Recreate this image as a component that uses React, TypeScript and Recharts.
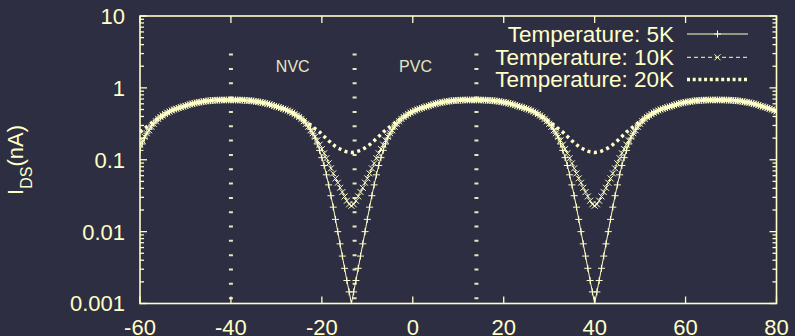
import React from 'react';
import { LineChart, Line, XAxis, YAxis, ReferenceLine, ReferenceDot } from 'recharts';

const BG = '#2e2e42';
const FG = '#ffffc8';
const DIM = '#e6e6c0';
const FONT = '"Liberation Sans", Arial, Helvetica, sans-serif';

const W = 795;
const H = 336;
const PLOT_LEFT = 140;
const PLOT_RIGHT = 776.5;
const PLOT_TOP = 16;
const PLOT_BOTTOM = 303.5;

// gate voltage (x) samples
const xValues = [
  -60,-59.5,-59,-58.5,-58,-57.5,-57,-56.5,-56,-55.5,-55,-54.5,-54,-53.5,-53,-52.5,-52,-51.5,-51,-50.5,
  -50,-49.5,-49,-48.5,-48,-47.5,-47,-46.5,-46,-45.5,-45,-44.5,-44,-43.5,-43,-42.5,-42,-41.5,-41,-40.5,
  -40,-39.5,-39,-38.5,-38,-37.5,-37,-36.5,-36,-35.5,-35,-34.5,-34,-33.5,-33,-32.5,-32,-31.5,-31,-30.5,
  -30,-29.5,-29,-28.5,-28,-27.5,-27,-26.5,-26,-25.5,-25,-24.5,-24,-23.5,-23,-22.5,-22,-21.5,-21,-20.5,
  -20,-19.5,-19,-18.5,-18,-17.5,-17,-16.5,-16,-15.5,-15,-14.5,-14,-13.5,-13,-12.5,-12,-11.5,-11,-10.5,
  -10,-9.5,-9,-8.5,-8,-7.5,-7,-6.5,-6,-5.5,-5,-4.5,-4,-3.5,-3,-2.5,-2,-1.5,-1,-0.5,
  0,0.5,1,1.5,2,2.5,3,3.5,4,4.5,5,5.5,6,6.5,7,7.5,8,8.5,9,9.5,
  10,10.5,11,11.5,12,12.5,13,13.5,14,14.5,15,15.5,16,16.5,17,17.5,18,18.5,19,19.5,
  20,20.5,21,21.5,22,22.5,23,23.5,24,24.5,25,25.5,26,26.5,27,27.5,28,28.5,29,29.5,
  30,30.5,31,31.5,32,32.5,33,33.5,34,34.5,35,35.5,36,36.5,37,37.5,38,38.5,39,39.5,
  40,40.5,41,41.5,42,42.5,43,43.5,44,44.5,45,45.5,46,46.5,47,47.5,48,48.5,49,49.5,
  50,50.5,51,51.5,52,52.5,53,53.5,54,54.5,55,55.5,56,56.5,57,57.5,58,58.5,59,59.5,
  60,60.5,61,61.5,62,62.5,63,63.5,64,64.5,65,65.5,66,66.5,67,67.5,68,68.5,69,69.5,
  70,70.5,71,71.5,72,72.5,73,73.5,74,74.5,75,75.5,76,76.5,77,77.5,78,78.5,79,79.5,
  80,
];

// I_DS (nA) at 5K
const temp5K = [
  // -60 .. -40.5
  0.135,0.166,0.2,0.234,0.266,0.295,0.324,0.347,0.372,0.394,0.412,0.432,0.452,0.468,0.484,0.501,0.513,0.525,0.537,0.55,
  0.562,0.575,0.589,0.603,0.61,0.624,0.631,0.638,0.646,0.653,0.661,0.665,0.668,0.671,0.674,0.676,0.678,0.679,0.679,0.679,
  // -40 .. -13.5
  0.679,0.679,0.679,0.678,0.676,0.674,0.671,0.668,0.665,0.661,0.653,0.646,0.638,0.631,0.624,0.61,0.603,0.589,0.575,0.562,
  0.55,0.537,0.525,0.513,0.501,0.484,0.468,0.452,0.432,0.412,0.394,0.372,0.347,0.324,0.295,0.266,0.234,0.2,0.166,0.135,
  0.107,0.0832,0.0617,0.0447,0.0316,0.0219,0.0148,0.01,0.00676,0.00457,0.00309,0.00209,0.00145,0.001,
  // -13 .. 13
  0.00145,0.00209,0.00309,0.00457,0.00676,0.01,0.0148,0.0219,0.0316,0.0447,0.0617,0.0832,0.107,0.135,0.166,0.2,0.234,0.266,
  0.295,0.324,0.347,0.372,0.394,0.412,0.432,0.452,0.468,0.484,0.501,0.513,0.525,0.537,0.55,0.562,0.575,0.589,0.603,0.61,
  0.624,0.631,0.638,0.646,0.653,0.661,0.665,0.668,0.671,0.674,0.676,0.678,0.679,0.679,0.679,
  // 13.5 .. 40
  0.679,0.679,0.679,0.678,0.676,0.674,0.671,0.668,0.665,0.661,0.653,0.646,0.638,0.631,0.624,0.61,0.603,0.589,0.575,0.562,
  0.55,0.537,0.525,0.513,0.501,0.484,0.468,0.452,0.432,0.412,0.394,0.372,0.347,0.324,0.295,0.266,0.234,0.2,0.166,0.135,
  0.107,0.0832,0.0617,0.0447,0.0316,0.0219,0.0148,0.01,0.00676,0.00457,0.00309,0.00209,0.00145,0.001,
  // 40.5 .. 66.5
  0.00145,0.00209,0.00309,0.00457,0.00676,0.01,0.0148,0.0219,0.0316,0.0447,0.0617,0.0832,0.107,0.135,0.166,0.2,0.234,0.266,
  0.295,0.324,0.347,0.372,0.394,0.412,0.432,0.452,0.468,0.484,0.501,0.513,0.525,0.537,0.55,0.562,0.575,0.589,0.603,0.61,
  0.624,0.631,0.638,0.646,0.653,0.661,0.665,0.668,0.671,0.674,0.676,0.678,0.679,0.679,0.679,
  // 67 .. 80
  0.679,0.679,0.679,0.678,0.676,0.674,0.671,0.668,0.665,0.661,0.653,0.646,0.638,0.631,0.624,0.61,0.603,0.589,0.575,0.562,
  0.55,0.537,0.525,0.513,0.501,0.484,0.468,
];

// I_DS (nA) at 10K
const temp10K = [
  // -60 .. -40.5
  0.162,0.186,0.209,0.234,0.257,0.288,0.316,0.343,0.37,0.393,0.412,0.432,0.452,0.468,0.484,0.501,0.513,0.525,0.537,0.55,
  0.562,0.575,0.589,0.603,0.61,0.624,0.631,0.638,0.646,0.653,0.661,0.665,0.668,0.671,0.674,0.676,0.678,0.679,0.679,0.679,
  // -40 .. -13.5
  0.679,0.679,0.679,0.678,0.676,0.674,0.671,0.668,0.665,0.661,0.653,0.646,0.638,0.631,0.624,0.61,0.603,0.589,0.575,0.562,
  0.55,0.537,0.525,0.513,0.501,0.484,0.468,0.452,0.432,0.412,0.393,0.37,0.343,0.316,0.288,0.257,0.234,0.209,0.186,0.162,
  0.141,0.123,0.105,0.0891,0.0759,0.0646,0.055,0.0479,0.0407,0.0355,0.0309,0.0269,0.024,0.0229,
  // -13 .. 13
  0.024,0.0269,0.0309,0.0355,0.0407,0.0479,0.055,0.0646,0.0759,0.0891,0.105,0.123,0.141,0.162,0.186,0.209,0.234,0.257,
  0.288,0.316,0.343,0.37,0.393,0.412,0.432,0.452,0.468,0.484,0.501,0.513,0.525,0.537,0.55,0.562,0.575,0.589,0.603,0.61,
  0.624,0.631,0.638,0.646,0.653,0.661,0.665,0.668,0.671,0.674,0.676,0.678,0.679,0.679,0.679,
  // 13.5 .. 40
  0.679,0.679,0.679,0.678,0.676,0.674,0.671,0.668,0.665,0.661,0.653,0.646,0.638,0.631,0.624,0.61,0.603,0.589,0.575,0.562,
  0.55,0.537,0.525,0.513,0.501,0.484,0.468,0.452,0.432,0.412,0.393,0.37,0.343,0.316,0.288,0.257,0.234,0.209,0.186,0.162,
  0.141,0.123,0.105,0.0891,0.0759,0.0646,0.055,0.0479,0.0407,0.0355,0.0309,0.0269,0.024,0.0229,
  // 40.5 .. 66.5
  0.024,0.0269,0.0309,0.0355,0.0407,0.0479,0.055,0.0646,0.0759,0.0891,0.105,0.123,0.141,0.162,0.186,0.209,0.234,0.257,
  0.288,0.316,0.343,0.37,0.393,0.412,0.432,0.452,0.468,0.484,0.501,0.513,0.525,0.537,0.55,0.562,0.575,0.589,0.603,0.61,
  0.624,0.631,0.638,0.646,0.653,0.661,0.665,0.668,0.671,0.674,0.676,0.678,0.679,0.679,0.679,
  // 67 .. 80
  0.679,0.679,0.679,0.678,0.676,0.674,0.671,0.668,0.665,0.661,0.653,0.646,0.638,0.631,0.624,0.61,0.603,0.589,0.575,0.562,
  0.55,0.537,0.525,0.513,0.501,0.484,0.468,
];

// I_DS (nA) at 20K
const temp20K = [
  // -60 .. -40.5
  0.243,0.257,0.272,0.288,0.305,0.324,0.339,0.355,0.372,0.389,0.407,0.427,0.447,0.462,0.484,0.501,0.513,0.525,0.537,0.55,
  0.562,0.575,0.589,0.603,0.61,0.624,0.631,0.638,0.646,0.653,0.661,0.665,0.668,0.671,0.674,0.676,0.678,0.679,0.679,0.679,
  // -40 .. -13.5
  0.679,0.679,0.679,0.678,0.676,0.674,0.671,0.668,0.665,0.661,0.653,0.646,0.638,0.631,0.624,0.61,0.603,0.589,0.575,0.562,
  0.55,0.537,0.525,0.513,0.501,0.484,0.462,0.447,0.427,0.407,0.389,0.372,0.355,0.339,0.324,0.305,0.288,0.272,0.257,0.243,
  0.226,0.211,0.197,0.184,0.172,0.162,0.153,0.146,0.141,0.136,0.132,0.129,0.127,0.126,
  // -13 .. 13
  0.127,0.129,0.132,0.136,0.141,0.146,0.153,0.162,0.172,0.184,0.197,0.211,0.226,0.243,0.257,0.272,0.288,0.305,
  0.324,0.339,0.355,0.372,0.389,0.407,0.427,0.447,0.462,0.484,0.501,0.513,0.525,0.537,0.55,0.562,0.575,0.589,0.603,0.61,
  0.624,0.631,0.638,0.646,0.653,0.661,0.665,0.668,0.671,0.674,0.676,0.678,0.679,0.679,0.679,
  // 13.5 .. 40
  0.679,0.679,0.679,0.678,0.676,0.674,0.671,0.668,0.665,0.661,0.653,0.646,0.638,0.631,0.624,0.61,0.603,0.589,0.575,0.562,
  0.55,0.537,0.525,0.513,0.501,0.484,0.462,0.447,0.427,0.407,0.389,0.372,0.355,0.339,0.324,0.305,0.288,0.272,0.257,0.243,
  0.226,0.211,0.197,0.184,0.172,0.162,0.153,0.146,0.141,0.136,0.132,0.129,0.127,0.126,
  // 40.5 .. 66.5
  0.127,0.129,0.132,0.136,0.141,0.146,0.153,0.162,0.172,0.184,0.197,0.211,0.226,0.243,0.257,0.272,0.288,0.305,
  0.324,0.339,0.355,0.372,0.389,0.407,0.427,0.447,0.462,0.484,0.501,0.513,0.525,0.537,0.55,0.562,0.575,0.589,0.603,0.61,
  0.624,0.631,0.638,0.646,0.653,0.661,0.665,0.668,0.671,0.674,0.676,0.678,0.679,0.679,0.679,
  // 67 .. 80
  0.679,0.679,0.679,0.678,0.676,0.674,0.671,0.668,0.665,0.661,0.653,0.646,0.638,0.631,0.624,0.61,0.603,0.589,0.575,0.562,
  0.55,0.537,0.525,0.513,0.501,0.484,0.462,
];

const seriesNames = ['Temperature: 5K', 'Temperature: 10K', 'Temperature: 20K'];
const xTicks = [-60, -40, -20, 0, 20, 40, 60, 80];
const yMajorTicks = [0.001, 0.01, 0.1, 1, 10];
const yMinorTicks = [
  0.002, 0.003, 0.004, 0.005, 0.006, 0.007, 0.008, 0.009,
  0.02, 0.03, 0.04, 0.05, 0.06, 0.07, 0.08, 0.09,
  0.2, 0.3, 0.4, 0.5, 0.6, 0.7, 0.8, 0.9,
  2, 3, 4, 5, 6, 7, 8, 9,
];
const guideLinesX = [-40, -12.8, 14];
const guideTopY = 3;
const regionNames = ['NVC', 'PVC'];
const regionLabelX = [-26.4, 0.6];
const regionLabelY = 2;

const data = xValues.map((x, i) => ({ x, t5: temp5K[i], t10: temp10K[i], t20: temp20K[i] }));

const plusPath = (cx: number, cy: number, s: number) =>
  `M${cx - s},${cy}H${cx + s}M${cx},${cy - s}V${cy + s}`;
const crossPath = (cx: number, cy: number, s: number) =>
  `M${cx - s},${cy - s}L${cx + s},${cy + s}M${cx - s},${cy + s}L${cx + s},${cy - s}`;

const renderPlus = (props: any) => {
  const { cx, cy, index } = props;
  if (cx == null || cy == null || isNaN(cy)) return <g key={`p${index}`} />;
  return <path key={`p${index}`} d={plusPath(cx, cy, 3.5)} stroke={FG} strokeWidth={1} fill="none" />;
};
const renderCross = (props: any) => {
  const { cx, cy, index } = props;
  if (cx == null || cy == null || isNaN(cy)) return <g key={`c${index}`} />;
  return <path key={`c${index}`} d={crossPath(cx, cy, 3)} stroke={FG} strokeWidth={1} fill="none" />;
};

const XTick = (props: any) => {
  const { x, payload } = props;
  return (
    <g>
      <line x1={x} x2={x} y1={PLOT_BOTTOM} y2={PLOT_BOTTOM - 7} stroke={FG} strokeWidth={1.3} />
      <line x1={x} x2={x} y1={PLOT_TOP} y2={PLOT_TOP + 7} stroke={FG} strokeWidth={1.3} />
      <text x={x} y={PLOT_BOTTOM + 31.5} textAnchor="middle" fill={FG} fontSize={22} fontFamily={FONT}>
        {String(payload.value)}
      </text>
    </g>
  );
};

const YTick = (props: any) => {
  const { y, payload } = props;
  const v = payload.value;
  const major = yMajorTicks.includes(v);
  const len = major ? 7 : 4;
  return (
    <g>
      <line x1={PLOT_LEFT} x2={PLOT_LEFT + len} y1={y} y2={y} stroke={FG} strokeWidth={1.3} />
      <line x1={PLOT_RIGHT} x2={PLOT_RIGHT - len} y1={y} y2={y} stroke={FG} strokeWidth={1.3} />
      {major && (
        <text x={PLOT_LEFT - 15} y={y} dy="0.36em" textAnchor="end" fill={FG} fontSize={22} fontFamily={FONT}>
          {String(v)}
        </text>
      )}
    </g>
  );
};

const legendRowsY = [34, 57.3, 79.6];
const LEG_TEXT_X = 674;
const LEG_X1 = 687;
const LEG_X2 = 748;

export default function App() {
  const legMid = (LEG_X1 + LEG_X2) / 2;
  return (
    <div style={{ position: 'absolute', left: 0, top: 0, width: W, height: H, background: BG, overflow: 'hidden' }}>
      <div style={{ position: 'absolute', left: 0, top: 0 }}>
        <LineChart width={W} height={H} data={data} margin={{ top: 16, right: W - PLOT_RIGHT, bottom: 0, left: 0 }}>
          <XAxis
            dataKey="x"
            type="number"
            domain={[-60, 80]}
            ticks={xTicks}
            interval={0}
            allowDataOverflow
            axisLine={false}
            tickLine={false}
            height={H - PLOT_BOTTOM}
            tick={XTick}
          />
          <YAxis
            type="number"
            scale="log"
            domain={[0.001, 10]}
            ticks={[...yMajorTicks, ...yMinorTicks]}
            interval={0}
            allowDataOverflow
            axisLine={false}
            tickLine={false}
            width={PLOT_LEFT}
            tick={YTick}
          />
          {guideLinesX.map((gx) => (
            <ReferenceLine
              key={`g${gx}`}
              segment={[{ x: gx, y: guideTopY }, { x: gx, y: 0.001 }]}
              stroke={DIM}
              strokeWidth={4}
              strokeDasharray="2 12.33"
            />
          ))}
          {regionNames.map((name, i) => (
            <ReferenceDot
              key={name}
              x={regionLabelX[i]}
              y={regionLabelY}
              r={0}
              fill="none"
              stroke="none"
              label={{ value: name, position: 'center', fill: DIM, fontSize: 16, fontFamily: FONT }}
            />
          ))}
          <Line
            dataKey="t5"
            name={seriesNames[0]}
            type="linear"
            stroke={FG}
            strokeWidth={1}
            dot={renderPlus}
            activeDot={false}
            isAnimationActive={false}
          />
          <Line
            dataKey="t10"
            name={seriesNames[1]}
            type="linear"
            stroke={FG}
            strokeWidth={1}
            strokeDasharray="4 3"
            dot={renderCross}
            activeDot={false}
            isAnimationActive={false}
          />
          <Line
            dataKey="t20"
            name={seriesNames[2]}
            type="linear"
            stroke={FG}
            strokeWidth={3.5}
            strokeDasharray="3 3.5"
            dot={false}
            activeDot={false}
            isAnimationActive={false}
          />
        </LineChart>
      </div>
      <svg
        width={W}
        height={H}
        style={{ position: 'absolute', left: 0, top: 0, pointerEvents: 'none' }}
      >
        <rect
          x={PLOT_LEFT}
          y={PLOT_TOP}
          width={PLOT_RIGHT - PLOT_LEFT}
          height={PLOT_BOTTOM - PLOT_TOP}
          fill="none"
          stroke={FG}
          strokeWidth={1.6}
        />
        <text
          transform="translate(23,160) rotate(-90)"
          textAnchor="middle"
          fill={FG}
          fontSize={22}
          fontFamily={FONT}
        >
          I
          <tspan fontSize={16} dy={9}>DS</tspan>
          <tspan dy={-9}>(nA)</tspan>
        </text>
        {seriesNames.map((name, i) => (
          <g key={name}>
            <text
              x={LEG_TEXT_X}
              y={legendRowsY[i] + 7.8}
              textAnchor="end"
              fill={FG}
              fontSize={22.5}
              fontFamily={FONT}
            >
              {name}
            </text>
            <line
              x1={LEG_X1}
              x2={LEG_X2}
              y1={legendRowsY[i]}
              y2={legendRowsY[i]}
              stroke={FG}
              strokeWidth={i === 2 ? 3.5 : 1}
              strokeDasharray={i === 0 ? undefined : i === 1 ? '4 3' : '3 2.7'}
            />
            {i === 0 && <path d={plusPath(legMid, legendRowsY[i], 3.5)} stroke={FG} strokeWidth={1} fill="none" />}
            {i === 1 && <path d={crossPath(legMid, legendRowsY[i], 3)} stroke={FG} strokeWidth={1} fill="none" />}
          </g>
        ))}
      </svg>
    </div>
  );
}
